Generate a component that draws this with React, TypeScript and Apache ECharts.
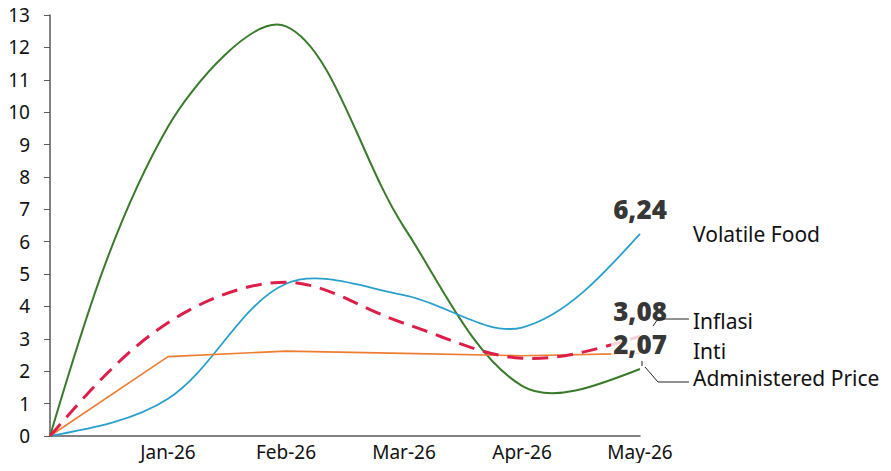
import React, { useEffect, useRef } from "react";
import * as echarts from "echarts";

const categories = ["", "Jan-26", "Feb-26", "Mar-26", "Apr-26", "May-26"];
const volatileFood = [0, 1.15, 4.7, 4.35, 3.35, 6.24];
const inflasi = [0, 3.5, 4.75, 3.48, 2.4, 3.08];
const inti = [0, 2.45, 2.62, 2.55, 2.48, 2.55];
const administeredPrice = [0, 9.55, 12.65, 6.45, 1.55, 2.07];
const seriesNames = ["Volatile Food", "Inflasi", "Inti", "Administered Price"];
const labelledEnds = [
  { name: "Volatile Food", value: 6.24 },
  { name: "Inflasi", value: 3.08 },
  { name: "Administered Price", value: 2.07 },
];

const FONT = "'Noto Sans', sans-serif";

// Excel-like smoothed line (chord-length scaled Catmull-Rom as cubic Bezier), drawn through the axes' own scales.
function smoothSeries(name: string, values: number[], style: any, z: number) {
  return {
    name,
    type: "custom",
    z,
    clip: false,
    data: values.map((v, i) => [i, v]),
    encode: { x: 0, y: 1 },
    renderItem: (params: any, api: any) => {
      if (params.dataIndex !== 0) return null;
      const pts: number[][] = values.map((v, i) => api.coord([i, v]));
      const n = pts.length;
      const dist = (a: number[], b: number[]) => Math.hypot(b[0] - a[0], b[1] - a[1]);
      const fwd: number[][] = [];
      const bwd: number[][] = [];
      for (let i = 0; i < n; i++) {
        const prev = pts[Math.max(0, i - 1)];
        const next = pts[Math.min(n - 1, i + 1)];
        const dPrev = dist(prev, pts[i]);
        const dNext = dist(pts[i], next);
        const tot = dPrev + dNext || 1;
        const tx = (next[0] - prev[0]) / tot;
        const ty = (next[1] - prev[1]) / tot;
        fwd.push([pts[i][0] + (tx * dNext) / 3, pts[i][1] + (ty * dNext) / 3]);
        bwd.push([pts[i][0] - (tx * dPrev) / 3, pts[i][1] - (ty * dPrev) / 3]);
      }
      // natural ends: end control points aim halfway to the neighbouring control point
      fwd[0] = [(pts[0][0] + bwd[1][0]) / 2, (pts[0][1] + bwd[1][1]) / 2];
      bwd[n - 1] = [(pts[n - 1][0] + fwd[n - 2][0]) / 2, (pts[n - 1][1] + fwd[n - 2][1]) / 2];
      let d = `M${pts[0][0]},${pts[0][1]}`;
      for (let i = 0; i < n - 1; i++) {
        const c1 = fwd[i];
        const c2 = bwd[i + 1];
        const p2 = pts[i + 1];
        d += ` C${c1[0]},${c1[1]} ${c2[0]},${c2[1]} ${p2[0]},${p2[1]}`;
      }
      return {
        type: "path",
        shape: { pathData: d },
        style: { fill: "none", ...style },
        silent: true,
      };
    },
  };
}

export default function App() {
  const ref = useRef<HTMLDivElement>(null);
  useEffect(() => {
    if (!ref.current) return;
    const chart = echarts.init(ref.current, null, { renderer: "svg" });
    const last = categories[categories.length - 1];
    const legendText = (text: string, y: number) => ({
      type: "text",
      x: 693,
      y,
      z: 20,
      style: { text, fontSize: 21, fontFamily: FONT, fill: "#111", verticalAlign: "middle", align: "left" },
    });
    chart.setOption({
      animation: false,
      backgroundColor: "#ffffff",
      grid: { left: 50, right: 251, top: 15, bottom: 35 },
      xAxis: {
        type: "category",
        data: categories,
        boundaryGap: false,
        axisLine: { show: true, lineStyle: { color: "#595959", width: 1.5 } },
        axisTick: { show: false },
        axisLabel: { color: "#111", fontSize: 19, fontFamily: FONT, margin: 5, interval: 0, lineHeight: 22 },
        splitLine: { show: false },
      },
      yAxis: {
        type: "value",
        min: 0,
        max: 13,
        interval: 1,
        axisLine: { show: true, lineStyle: { color: "#595959", width: 1.5 } },
        axisTick: { show: true, length: 6, lineStyle: { color: "#595959" } },
        axisLabel: { color: "#111", fontSize: 19, fontFamily: FONT, margin: 20 },
        splitLine: { show: false },
      },
      series: [
        smoothSeries(seriesNames[3], administeredPrice, { stroke: "#3a7a2c", lineWidth: 2 }, 2),
        smoothSeries(seriesNames[0], volatileFood, { stroke: "#2a9fcc", lineWidth: 1.8 }, 3),
        {
          name: seriesNames[2],
          type: "line",
          data: inti,
          smooth: false,
          symbol: "none",
          lineStyle: { color: "#ed7d31", width: 1.6 },
          z: 4,
        },
        smoothSeries(seriesNames[1], inflasi, { stroke: "#dc1f48", lineWidth: 3, lineDash: [16, 9] }, 5),
        {
          name: "labels",
          type: "scatter",
          symbolSize: 0,
          z: 10,
          data: labelledEnds.map((d) => ({ value: [last, d.value] })),
          label: {
            show: true,
            position: "top",
            distance: 14,
            formatter: (p: any) => Number(p.value[1]).toFixed(2).replace(".", ","),
            fontSize: 26,
            fontWeight: 900,
            fontFamily: FONT,
            color: "#000",
            lineHeight: 22,
            backgroundColor: "#ffffff",
            padding: [0, 2, 0, 2],
          },
        },
      ],
      graphic: [
        legendText(seriesNames[0], 234),
        legendText(seriesNames[1], 321),
        legendText(seriesNames[2], 351),
        legendText(seriesNames[3], 378),
        {
          type: "polyline",
          shape: { points: [[689, 319], [658, 319], [653, 326]] },
          style: { stroke: "#222", lineWidth: 1, fill: "none" },
          z: 20,
        },
        {
          type: "polyline",
          shape: { points: [[689, 382], [658, 382], [645, 367]] },
          style: { stroke: "#222", lineWidth: 1, fill: "none" },
          z: 20,
        },
        {
          type: "line",
          shape: { x1: 642, y1: 361, x2: 642, y2: 366 },
          style: { stroke: "#222", lineWidth: 1 },
          z: 20,
        },
      ],
    });
    return () => chart.dispose();
  }, []);
  return <div ref={ref} style={{ width: 891, height: 471, margin: -8 }} />;
}
